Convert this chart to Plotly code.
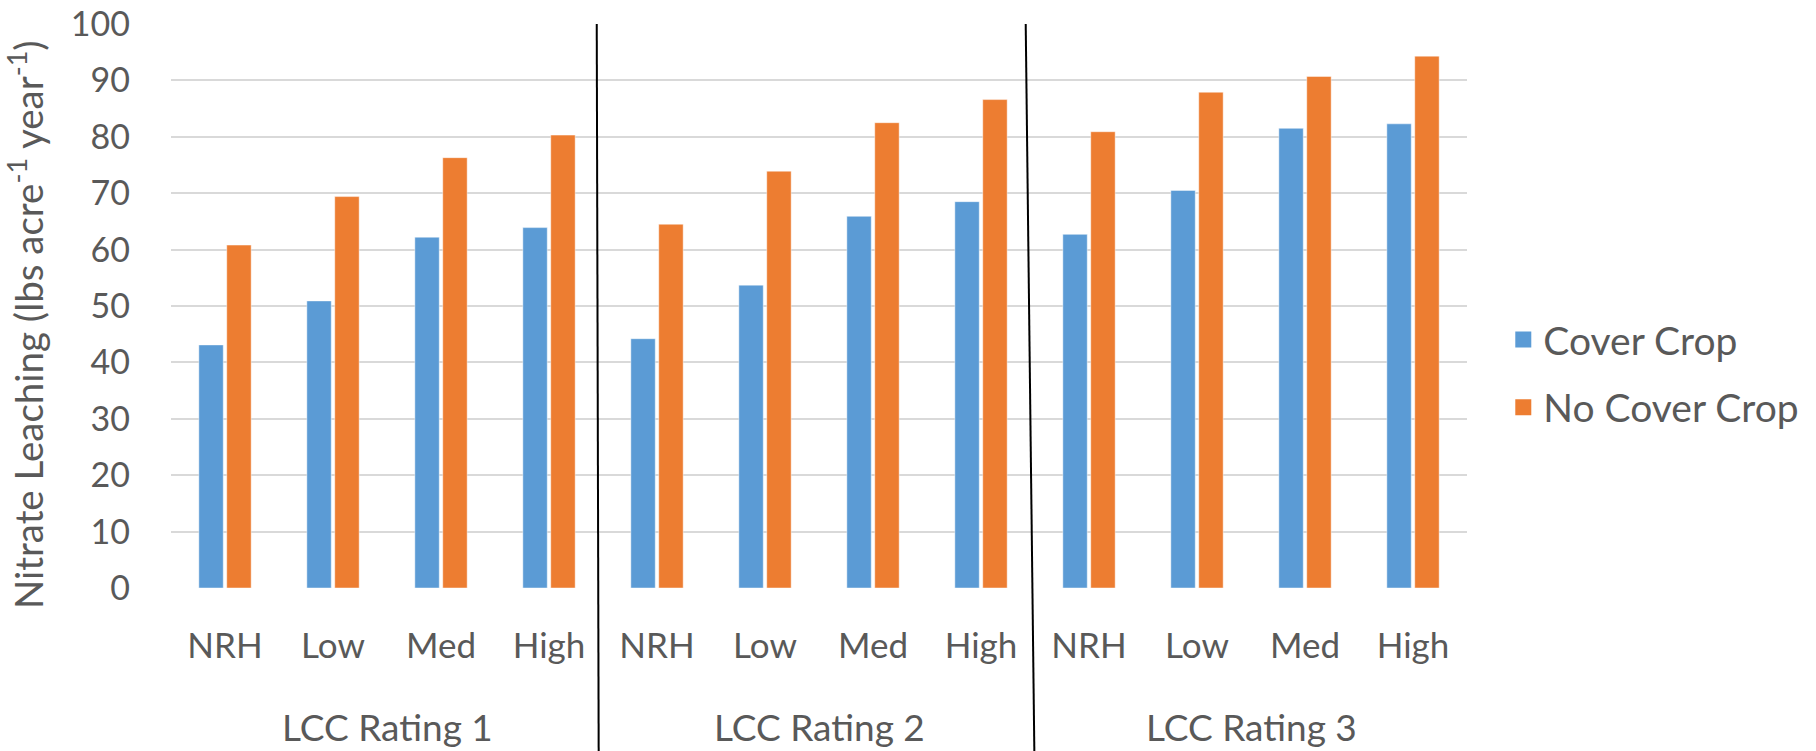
import plotly.graph_objects as go

# LCC rating groups and nitrogen-rate levels within each group
groups = ["LCC Rating 1", "LCC Rating 2", "LCC Rating 3"]
levels = ["NRH", "Low", "Med", "High"]

# Nitrate leaching (lbs acre^-1 year^-1), ordered group by group, level by level
cover_crop = [43.1, 50.9, 62.2, 63.9,
              44.2, 53.7, 65.9, 68.5,
              62.7, 70.5, 81.5, 82.3]
no_cover_crop = [60.8, 69.4, 76.3, 80.3,
                 64.5, 73.9, 82.5, 86.6,
                 80.9, 87.9, 90.7, 94.3]

series_names = ["Cover Crop", "No Cover Crop"]
colors = ["#5B9BD5", "#ED7D31"]
y_ticks = list(range(0, 101, 10))

FONT = "Lato"
TEXT = "#595959"

n = len(groups) * len(levels)
x_pos = list(range(n))
tick_text = [lv for _ in groups for lv in levels]

fig = go.Figure()
for name, vals, col in zip(series_names, [cover_crop, no_cover_crop], colors):
    fig.add_trace(go.Bar(
        x=x_pos, y=vals, name=name,
        marker=dict(color=col, line=dict(color="rgba(255,255,255,0.45)", width=1)),
        showlegend=False,
    ))
    # square legend swatch
    fig.add_trace(go.Scatter(
        x=[None], y=[None], mode="markers", name=name, legendgroup=name,
        marker=dict(symbol="square", size=16, color=col),
    ))

# group labels under the level labels
for gi, g in enumerate(groups):
    fig.add_annotation(
        x=gi * len(levels) + (len(levels) - 1) / 2, y=-0.245,
        xref="x", yref="paper", text=g, showarrow=False,
        font=dict(family=FONT, size=37, color=TEXT),
        xanchor="center", yanchor="middle",
    )

# vertical separators between groups
sep = [((3.442, 1.0), (3.460, -0.29)), ((7.414, 1.0), (7.494, -0.29))]
for (x0, y0), (x1, y1) in sep:
    fig.add_shape(type="line", xref="x", yref="paper",
                  x0=x0, y0=y0, x1=x1, y1=y1,
                  line=dict(color="black", width=2))

# y-axis title with superscripts
fig.add_annotation(
    x=-0.1123, y=0.467, xref="paper", yref="paper",
    text="Nitrate Leaching (lbs acre<sup>-1</sup> year<sup>-1</sup>)",
    textangle=-90, showarrow=False,
    font=dict(family=FONT, size=38.5, color=TEXT),
    xanchor="center", yanchor="middle",
)

fig.update_layout(
    width=1816, height=751,
    margin=dict(l=171, r=345, t=24, b=163),
    paper_bgcolor="white", plot_bgcolor="white",
    bargap=0.483, bargroupgap=0.125, barmode="group",
    font=dict(family=FONT, size=34, color=TEXT),
    legend=dict(
        x=1.028, y=0.38, xanchor="left", yanchor="middle",
        font=dict(family=FONT, size=39, color=TEXT),
        tracegroupgap=14, traceorder="grouped",
        bgcolor="rgba(0,0,0,0)",
    ),
    xaxis=dict(
        range=[-0.5, n - 0.5], tickmode="array",
        tickvals=x_pos, ticktext=tick_text,
        showgrid=False, zeroline=False, showline=False, ticks="",
        ticklabelstandoff=34, automargin=False,
        tickfont=dict(family=FONT, size=35, color=TEXT),
    ),
    yaxis=dict(
        range=[0, 100], tickmode="array", tickvals=y_ticks,
        showgrid=True, gridcolor="#D9D9D9", gridwidth=1.5,
        zeroline=False, showline=False, ticks="",
        ticklabelstandoff=40, automargin=False,
        tickfont=dict(family=FONT, size=34, color=TEXT),
    ),
)

fig.write_html("out.html")
